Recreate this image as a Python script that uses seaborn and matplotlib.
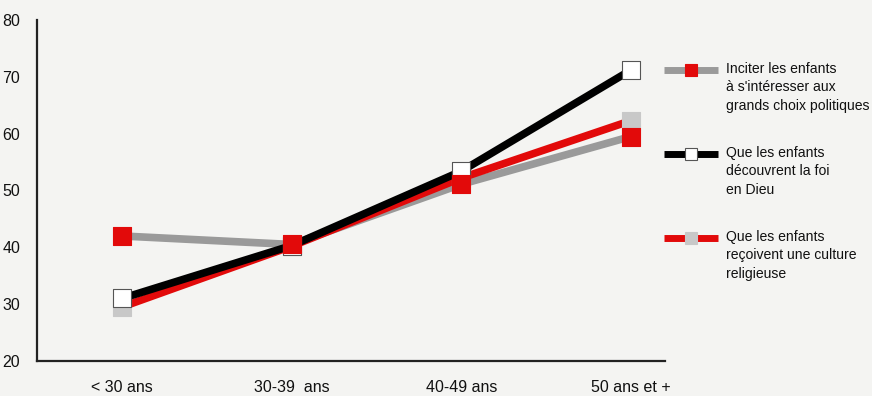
import matplotlib
matplotlib.use("Agg")
import matplotlib.pyplot as plt
import seaborn as sns
import pandas as pd
from matplotlib.lines import Line2D

categories = ["< 30 ans", "30-39  ans", "40-49 ans", "50 ans et +"]
inciter = [42, 40.5, 51.1, 59.5]
dieu = [31, 40.3, 53.4, 71.2]
culture = [29.5, 40.2, 52.2, 62.3]
labels = ["Inciter les enfants\nà s'intéresser aux\ngrands choix politiques",
          "Que les enfants\ndécouvrent la foi\nen Dieu",
          "Que les enfants\nreçoivent une culture\nreligieuse"]

sns.set_style("white")
plt.rcParams['font.family'] = ['Liberation Sans', 'DejaVu Sans']

bg = "#f4f4f2"
fig = plt.figure(figsize=(8.72, 3.96), dpi=100, facecolor=bg)
ax = fig.add_axes([37/872, 1-361/396, (665-37)/872, (361-20)/396])
ax.set_facecolor(bg)

series = [
    (inciter, "#9a9a9a", "#e20a0a", "#e20a0a"),
    (dieu, "#000000", "white", "#555555"),
    (culture, "#e20a0a", "#c8c8c8", "#c8c8c8"),
]
line_z = [2, 4, 3]
mark_z = [14, 12, 11]
for (vals, lc, mfc, mec), z in zip(series, line_z):
    df = pd.DataFrame({"cat": categories, "val": vals})
    sns.lineplot(data=df, x="cat", y="val", ax=ax, color=lc, lw=5.5,
                 sort=False, zorder=z, legend=False)
for (vals, lc, mfc, mec), z in zip(series, mark_z):
    df = pd.DataFrame({"cat": categories, "val": vals})
    sns.scatterplot(data=df, x="cat", y="val", ax=ax, marker="s", s=150,
                    color=mfc, edgecolor=mec, linewidth=0.8, zorder=z, legend=False)

ax.set_xlim(-0.5, 3.2)
ax.set_ylim(20, 80)
ax.set_yticks([20, 30, 40, 50, 60, 70, 80])
ax.set_xlabel("")
ax.set_ylabel("")
for s in ["top", "right"]:
    ax.spines[s].set_visible(False)
for s in ["left", "bottom"]:
    ax.spines[s].set_color("#222222")
    ax.spines[s].set_linewidth(1.6)
ax.tick_params(axis="both", length=0, labelsize=11.5, colors="#111111")
ax.tick_params(axis="y", pad=12)
ax.tick_params(axis="x", pad=14)

# manual legend in figure pixel coordinates
W, H = 872, 396
tops = [70, 154, 238]
for (vals, lc, mfc, mec), lab, yc in zip(series, labels, tops):
    yf = 1 - yc / H
    fig.add_artist(Line2D([664/W, 718/W], [yf, yf], color=lc, lw=5,
                          transform=fig.transFigure, solid_capstyle="butt"))
    fig.add_artist(Line2D([691/W], [yf], marker="s", markersize=8,
                          markerfacecolor=mfc, markeredgecolor=mec,
                          markeredgewidth=0.8, transform=fig.transFigure))
    fig.text(726/W, 1 - (yc - 8) / H, lab, ha="left", va="top",
             fontsize=10.1, color="#111111", linespacing=1.4)

fig.savefig("out.png", dpi=100, facecolor=bg)
